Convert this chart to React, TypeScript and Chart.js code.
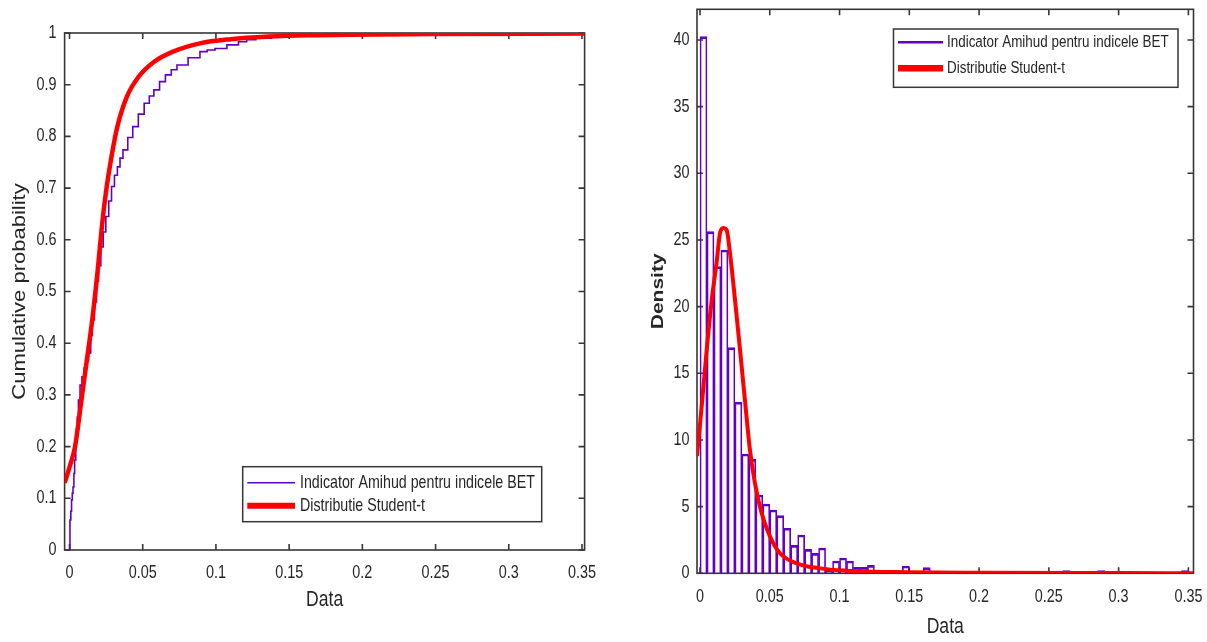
import React, { useEffect, useRef } from 'react';
import { Chart, registerables } from 'chart.js';

Chart.register(...registerables);

// ---------------- Data ----------------
const LEGEND_LABELS = ['Indicator Amihud pentru indicele BET', 'Distributie Student-t'];

// Left panel: empirical CDF (step) of the Amihud indicator
const ECDF_X = [
  0.0003, 0.0003, 0.0009, 0.0014, 0.0019, 0.0024, 0.003, 0.0035, 0.0043, 0.0048, 0.0053, 0.0061,
  0.0072, 0.0085, 0.01, 0.0115, 0.013, 0.0145, 0.0156, 0.017, 0.0184, 0.0198, 0.0214, 0.023,
  0.0248, 0.0268, 0.0287, 0.0307, 0.0327, 0.0345, 0.0365, 0.0398, 0.0432, 0.047, 0.051, 0.0545,
  0.0576, 0.0615, 0.0655, 0.0695, 0.0734, 0.081, 0.0891, 0.094, 0.0994, 0.1075, 0.1154, 0.121,
  0.1273, 0.138, 0.1492, 0.165, 0.262, 0.29, 0.351,
];
const ECDF_F = [
  0, 0.058, 0.075, 0.097, 0.11, 0.122, 0.148, 0.174, 0.213, 0.235, 0.257, 0.29,
  0.319, 0.335, 0.352, 0.366, 0.381, 0.415, 0.445, 0.48, 0.52, 0.55, 0.586, 0.615,
  0.645, 0.675, 0.703, 0.725, 0.741, 0.758, 0.774, 0.798, 0.819, 0.843, 0.864, 0.878,
  0.89, 0.906, 0.919, 0.929, 0.938, 0.952, 0.964, 0.967, 0.97, 0.977, 0.983, 0.987,
  0.99, 0.993, 0.996, 0.997, 0.998, 0.999, 1.0,
];

// Left panel: fitted Student-t CDF
const CDF_T_X = [
  -0.00335, 0.0, 0.0038, 0.0077, 0.0116, 0.0156, 0.0195, 0.0221, 0.0248, 0.0287, 0.0327, 0.0392,
  0.0471, 0.0576, 0.0707, 0.0891, 0.1102, 0.1363, 0.1627, 0.25, 0.3518,
];
const CDF_T_F = [
  0.13, 0.16, 0.2, 0.28, 0.362, 0.447, 0.548, 0.625, 0.69, 0.761, 0.819, 0.877,
  0.915, 0.944, 0.964, 0.98, 0.988, 0.993, 0.9955, 0.998, 0.999,
];

// Right panel: histogram (bin centres, density)
const HIST_CENTERS = [
  0.0025, 0.0075, 0.0125, 0.0175, 0.0225, 0.0275, 0.0325, 0.0375, 0.0425, 0.0475, 0.0525, 0.0575,
  0.0625, 0.0675, 0.0725, 0.0775, 0.0825, 0.0875, 0.0925, 0.0975, 0.1025, 0.1075, 0.1125, 0.1175,
  0.1225, 0.1275, 0.1325, 0.1375, 0.1425, 0.1475, 0.1525, 0.1575, 0.1625, 0.2625, 0.2875, 0.3475,
];
const HIST_DENSITY = [
  40.25, 25.63, 23.0, 24.25, 16.93, 12.83, 8.95, 8.55, 5.87, 5.2, 4.75, 4.32,
  3.38, 2.1, 2.87, 1.8, 1.5, 1.9, 0.2, 0.92, 1.15, 0.92, 0.45, 0.45,
  0.6, 0.1, 0.1, 0.1, 0.1, 0.55, 0.1, 0.1, 0.42, 0.2, 0.2, 0.2,
];

// Right panel: fitted Student-t density
const PDF_T_X = [
  -0.00215, 0.0012, 0.0048, 0.0084, 0.012, 0.0143, 0.0167, 0.0191, 0.0215, 0.0251, 0.0287, 0.0322,
  0.0358, 0.0394, 0.0442, 0.0502, 0.0573, 0.0693, 0.086, 0.105, 0.15, 0.2, 0.3, 0.3537,
];
const PDF_T_Y = [
  8.8, 12.5, 16.75, 20.5, 23.4, 25.5, 25.9, 25.75, 24.0, 20.5, 16.75, 13.0,
  9.25, 6.75, 4.5, 2.75, 1.5, 0.75, 0.37, 0.2, 0.08, 0.04, 0.015, 0.01,
];

// Tick values / labels
const X_TICKS = [0, 0.05, 0.1, 0.15, 0.2, 0.25, 0.3, 0.35];
const X_TICK_LABELS = ['0', '0.05', '0.1', '0.15', '0.2', '0.25', '0.3', '0.35'];
const CDF_Y_TICKS = [0, 0.1, 0.2, 0.3, 0.4, 0.5, 0.6, 0.7, 0.8, 0.9, 1];
const CDF_Y_TICK_LABELS = ['0', '0.1', '0.2', '0.3', '0.4', '0.5', '0.6', '0.7', '0.8', '0.9', '1'];
const PDF_Y_TICKS = [0, 5, 10, 15, 20, 25, 30, 35, 40];
const PDF_Y_TICK_LABELS = ['0', '5', '10', '15', '20', '25', '30', '35', '40'];

// ---------------- Styles ----------------
const PURPLE = '#6200c8';
const RED = '#ff0000';
const TEXT = '#262626';
const AXIS = '#363636';
const FAMILY = '"Liberation Sans", Arial, sans-serif';
const SQUEEZE = 0.8; // the reference image is horizontally compressed
const F = { tick: 18, legL: 17.8, legR: 16.8, title: 22 };

// Draw every text horizontally compressed (rotated text: compressed across its height)
function squeezeText(ctx: CanvasRenderingContext2D, sx: number) {
  const orig = ctx.fillText.bind(ctx);
  (ctx as any).fillText = (text: string, x: number, y: number, maxWidth?: number) => {
    const m = ctx.getTransform();
    const rotated = Math.abs(m.b) > 1e-6 || Math.abs(m.c) > 1e-6;
    ctx.save();
    ctx.translate(x, y);
    if (rotated) ctx.scale(1, sx);
    else ctx.scale(sx, 1);
    if (maxWidth === undefined || maxWidth === null || !isFinite(maxWidth)) orig(text, 0, 0);
    else orig(text, 0, 0, rotated ? maxWidth : maxWidth / sx);
    ctx.restore();
  };
}

// box with inward ticks on all four sides (MATLAB style)
const matlabAxes = {
  id: 'matlabAxes',
  beforeDatasetsDraw(chart: any, _a: any, o: any) {
    const { ctx, chartArea: a, scales } = chart;
    ctx.save();
    ctx.strokeStyle = o.color;
    ctx.lineWidth = o.width;
    ctx.strokeRect(a.left, a.top, a.right - a.left, a.bottom - a.top);
    const L = o.tickLength;
    ctx.beginPath();
    for (const t of scales.x.ticks) {
      const px = scales.x.getPixelForValue(t.value);
      ctx.moveTo(px, a.bottom);
      ctx.lineTo(px, a.bottom - L);
      ctx.moveTo(px, a.top);
      ctx.lineTo(px, a.top + L);
    }
    for (const t of scales.y.ticks) {
      const py = scales.y.getPixelForValue(t.value);
      ctx.moveTo(a.left, py);
      ctx.lineTo(a.left + L, py);
      ctx.moveTo(a.right, py);
      ctx.lineTo(a.right - L, py);
    }
    ctx.stroke();
    ctx.restore();
  },
};

const matlabLegend = {
  id: 'matlabLegend',
  afterDraw(chart: any, _a: any, o: any) {
    const { ctx } = chart;
    ctx.save();
    ctx.fillStyle = '#ffffff';
    ctx.fillRect(o.x1, o.y1, o.x2 - o.x1, o.y2 - o.y1);
    ctx.strokeStyle = AXIS;
    ctx.lineWidth = 1.5;
    ctx.strokeRect(o.x1, o.y1, o.x2 - o.x1, o.y2 - o.y1);
    chart.data.datasets.forEach((ds: any, i: number) => {
      const y = o.rows[i];
      ctx.strokeStyle = ds.borderColor;
      ctx.lineWidth = o.sampleWidths[i];
      ctx.beginPath();
      ctx.moveTo(o.sx1, y);
      ctx.lineTo(o.sx2, y);
      ctx.stroke();
      ctx.fillStyle = TEXT;
      ctx.font = `${o.fontSize}px ${FAMILY}`;
      ctx.textBaseline = 'middle';
      ctx.textAlign = 'left';
      ctx.fillText(ds.label, o.tx, y + 0.5);
    });
    ctx.restore();
  },
};

function xScale(min: number, max: number, tickPad: number, axisH: number, titleCenterFromBottom: number) {
  return {
    type: 'linear',
    min,
    max,
    offset: false,
    grid: { display: false, drawTicks: false },
    border: { display: false },
    afterBuildTicks: (s: any) => {
      s.ticks = X_TICKS.map((v) => ({ value: v }));
    },
    ticks: {
      callback: (_v: any, i: number) => X_TICK_LABELS[i],
      color: TEXT,
      font: { family: FAMILY, size: F.tick },
      padding: tickPad,
      maxRotation: 0,
      autoSkip: false,
    },
    title: {
      display: true,
      text: 'Data',
      color: TEXT,
      font: { family: FAMILY, size: F.title },
      padding: { top: 0, bottom: titleCenterFromBottom - F.title * 0.6 },
    },
    afterFit: (s: any) => {
      s.height = axisH;
      s.paddingLeft = 0;
      s.paddingRight = 0;
      s.paddingTop = 0;
      s.paddingBottom = 0;
    },
  };
}

function yScale(
  min: number, max: number, ticks: number[], labels: string[], tickPad: number, axisW: number,
  title: string, titleSize: number, titleWeight: string, titleCenterFromLeft: number,
) {
  return {
    type: 'linear',
    min,
    max,
    grid: { display: false, drawTicks: false },
    border: { display: false },
    afterBuildTicks: (s: any) => {
      s.ticks = ticks.map((v) => ({ value: v }));
    },
    ticks: {
      callback: (_v: any, i: number) => labels[i],
      color: TEXT,
      font: { family: FAMILY, size: F.tick },
      padding: tickPad,
      autoSkip: false,
    },
    title: {
      display: true,
      text: title,
      color: TEXT,
      font: { family: FAMILY, size: titleSize, weight: titleWeight },
      padding: { top: titleCenterFromLeft - titleSize * 0.6, bottom: 0 },
    },
    afterFit: (s: any) => {
      s.width = axisW;
      s.paddingLeft = 0;
      s.paddingRight = 0;
      s.paddingTop = 0;
      s.paddingBottom = 0;
    },
  };
}

function buildCdfConfig(): any {
  return {
    type: 'line',
    data: {
      datasets: [
        {
          label: LEGEND_LABELS[0],
          data: ECDF_X.map((x, i) => ({ x, y: ECDF_F[i] })),
          borderColor: PURPLE,
          borderWidth: 1.6,
          stepped: 'before',
          pointRadius: 0,
          fill: false,
          order: 1,
        },
        {
          label: LEGEND_LABELS[1],
          data: CDF_T_X.map((x, i) => ({ x, y: CDF_T_F[i] })),
          borderColor: RED,
          borderWidth: 4.5,
          cubicInterpolationMode: 'monotone',
          pointRadius: 0,
          fill: false,
          order: 0,
        },
      ],
    },
    options: {
      animation: false,
      responsive: false,
      devicePixelRatio: 1,
      events: [],
      layout: { padding: { left: 0, top: 33, right: 15.4, bottom: 0 } },
      plugins: {
        legend: { display: false },
        tooltip: { enabled: false },
        matlabAxes: { color: AXIS, width: 1.6, tickLength: 6 },
        matlabLegend: {
          x1: 242.7, y1: 466.7, x2: 541.7, y2: 521.7,
          rows: [482.7, 505.7], sx1: 247.3, sx2: 295, tx: 300,
          sampleWidths: [1.6, 6], fontSize: F.legL,
        },
      },
      scales: {
        x: xScale(-0.00335, 0.35178, 12, 92, 42),
        y: yScale(0, 1, CDF_Y_TICKS, CDF_Y_TICK_LABELS, 8, 64.6, 'Cumulative probability', 22, 'normal', 20.5),
      },
    },
    plugins: [matlabAxes, matlabLegend],
  };
}

function buildPdfConfig(): any {
  return {
    type: 'bar',
    data: {
      datasets: [
        {
          type: 'bar',
          label: LEGEND_LABELS[0],
          data: HIST_CENTERS.map((x, i) => ({ x, y: HIST_DENSITY[i] })),
          backgroundColor: 'rgba(0,0,0,0)',
          borderColor: PURPLE,
          borderWidth: { top: 2, left: 1, right: 1, bottom: 0 },
          borderSkipped: false,
          barPercentage: 1,
          categoryPercentage: 1,
          order: 1,
        },
        {
          type: 'line',
          label: LEGEND_LABELS[1],
          data: PDF_T_X.map((x, i) => ({ x, y: PDF_T_Y[i] })),
          borderColor: RED,
          borderWidth: 4,
          cubicInterpolationMode: 'monotone',
          pointRadius: 0,
          fill: false,
          order: 0,
        },
      ],
    },
    options: {
      animation: false,
      responsive: false,
      devicePixelRatio: 1,
      events: [],
      layout: { padding: { left: 0, top: 9.3, right: 13.5, bottom: 0 } },
      plugins: {
        legend: { display: false },
        tooltip: { enabled: false },
        matlabAxes: { color: AXIS, width: 1.6, tickLength: 6 },
        matlabLegend: {
          x1: 273.5, y1: 29, x2: 558, y2: 87.3,
          rows: [42.3, 68.3], sx1: 278, sx2: 323, tx: 327,
          sampleWidths: [2.6, 6.5], fontSize: F.legR,
        },
      },
      scales: {
        x: xScale(-0.00215, 0.35366, 13.4, 68.7, 15.3),
        y: yScale(0, 42.3, PDF_Y_TICKS, PDF_Y_TICK_LABELS, 7.4, 77, 'Density', 21, 'bold', 38),
      },
    },
    plugins: [matlabAxes, matlabLegend],
  };
}

export default function App() {
  const leftRef = useRef<HTMLCanvasElement>(null);
  const rightRef = useRef<HTMLCanvasElement>(null);

  useEffect(() => {
    const lc = leftRef.current as HTMLCanvasElement;
    const rc = rightRef.current as HTMLCanvasElement;
    squeezeText(lc.getContext('2d') as CanvasRenderingContext2D, SQUEEZE);
    squeezeText(rc.getContext('2d') as CanvasRenderingContext2D, SQUEEZE);
    const c1 = new Chart(lc, buildCdfConfig());
    const c2 = new Chart(rc, buildPdfConfig());
    return () => {
      c1.destroy();
      c2.destroy();
    };
  }, []);

  return (
    <div style={{ position: 'absolute', left: 0, top: 0, width: 1207, height: 642, background: '#ffffff' }}>
      <canvas
        ref={leftRef}
        width={600}
        height={642}
        style={{ position: 'absolute', left: 0, top: 0, width: 600, height: 642 }}
      />
      <canvas
        ref={rightRef}
        width={587}
        height={642}
        style={{ position: 'absolute', left: 620, top: 0, width: 587, height: 642 }}
      />
    </div>
  );
}
